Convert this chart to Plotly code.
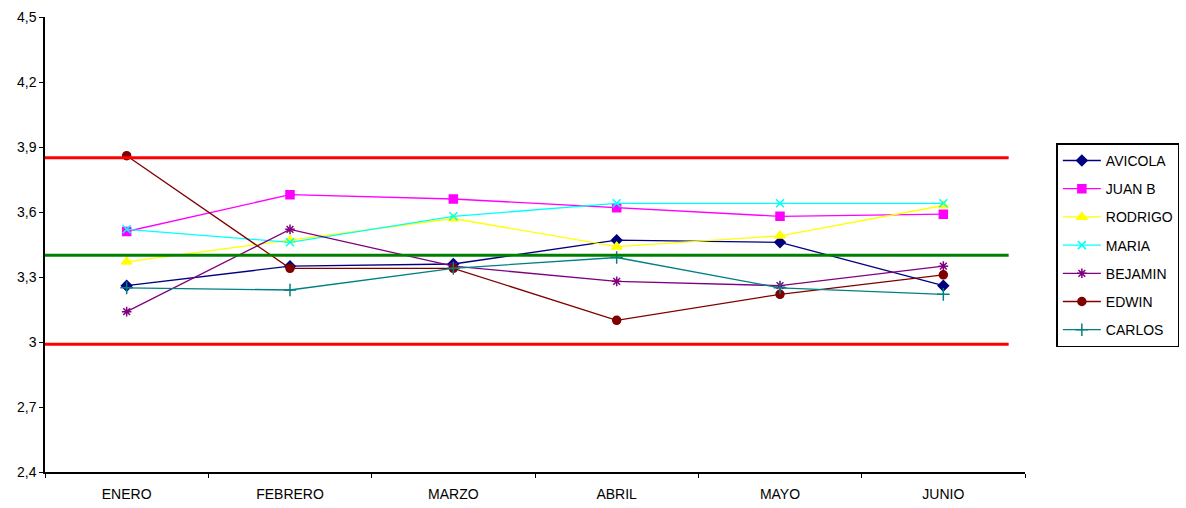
import plotly.graph_objects as go

months = ["ENERO", "FEBRERO", "MARZO", "ABRIL", "MAYO", "JUNIO"]

avicola = [3.26, 3.35, 3.36, 3.47, 3.46, 3.26]
juan_b = [3.51, 3.68, 3.66, 3.62, 3.58, 3.59]
rodrigo = [3.37, 3.47, 3.57, 3.44, 3.49, 3.63]
maria = [3.52, 3.46, 3.58, 3.64, 3.64, 3.64]
bejamin = [3.14, 3.52, 3.35, 3.28, 3.26, 3.35]
edwin = [3.86, 3.34, 3.34, 3.10, 3.22, 3.31]
carlos = [3.25, 3.24, 3.34, 3.39, 3.25, 3.22]

upper_limit = 3.85
center_line = 3.40
lower_limit = 2.99

y_tickvals = [2.4, 2.7, 3.0, 3.3, 3.6, 3.9, 4.2, 4.5]
y_ticktext = ["2,4", "2,7", "3", "3,3", "3,6", "3,9", "4,2", "4,5"]

series = [
    ("AVICOLA", avicola, "#000080", "diamond", 8),
    ("JUAN B", juan_b, "#FF00FF", "square", 8),
    ("RODRIGO", rodrigo, "#FFFF00", "triangle-up", 9),
    ("MARIA", maria, "#00FFFF", "x-thin-open", 8),
    ("BEJAMIN", bejamin, "#800080", "asterisk-open", 8),
    ("EDWIN", edwin, "#800000", "circle", 8),
    ("CARLOS", carlos, "#008080", "cross-thin-open", 9),
]

fig = go.Figure()
for i, (name, vals, color, sym, sz) in enumerate(series):
    fig.add_trace(go.Scatter(
        x=months, y=vals, name=name, mode="lines+markers",
        line=dict(color=color, width=1.3),
        marker=dict(symbol=sym, size=sz, color=color, line=dict(color=color, width=1.5)),
        legendgroup=name,
    ))

for val, col in [(upper_limit, "#FF0000"), (center_line, "#008000"), (lower_limit, "#FF0000")]:
    fig.add_shape(type="line", xref="x", yref="y", x0=-0.5, x1=5.4, y0=val, y1=val,
                  line=dict(color=col, width=3), layer="above")

fig.update_layout(
    width=1186, height=508,
    margin=dict(l=45, r=161, t=17, b=36, autoexpand=False),
    paper_bgcolor="white", plot_bgcolor="white",
    font=dict(family="Liberation Sans, Arial, sans-serif", size=14, color="#000000"),
    showlegend=True,
    legend=dict(
        x=1.032, xanchor="left", y=0.498, yanchor="middle",
        bordercolor="#000000", borderwidth=1.5, bgcolor="white",
        font=dict(size=14), itemwidth=38, tracegroupgap=7,
        traceorder="grouped",
    ),
)
fig.update_xaxes(
    type="category", range=[-0.5, 5.5], showgrid=False, zeroline=False,
    showline=True, linecolor="#000000", linewidth=1.5, automargin=False,
    ticks="outside", ticklen=4, tickcolor="#000000", tickson="boundaries",
    ticklabelstandoff=8,
)
fig.update_yaxes(
    range=[2.4, 4.5], tickvals=y_tickvals, ticktext=y_ticktext, automargin=False,
    showgrid=False, zeroline=False, showline=True, linecolor="#000000", linewidth=1.5,
    ticks="outside", ticklen=4, tickcolor="#000000",
)

fig.write_html(
    "out.html",
    config={"displayModeBar": False},
    post_script="document.body.style.margin='0';document.body.style.padding='0';",
)
